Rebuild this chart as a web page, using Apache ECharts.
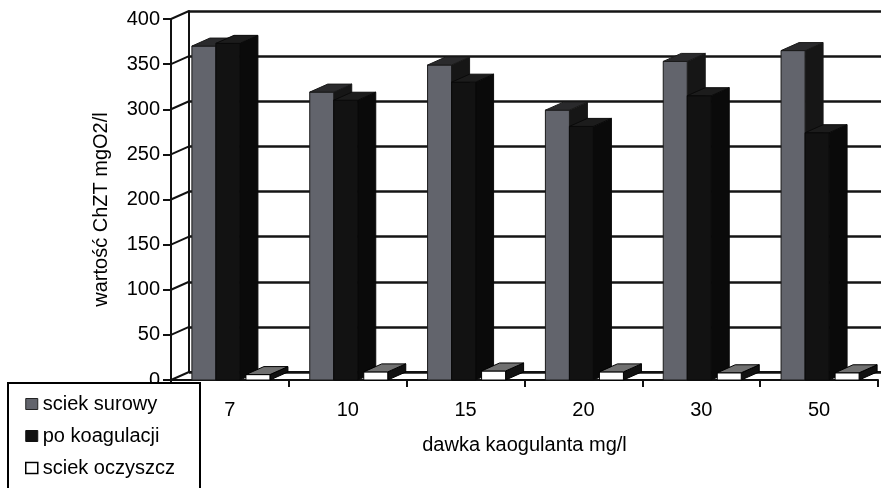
<!DOCTYPE html>
<html>
<head>
<meta charset="utf-8">
<script src="https://cdn.jsdelivr.net/npm/echarts@6/dist/echarts.min.js"></script>
<style>
  html, body { margin: 0; padding: 0; background: #ffffff; }
  #chart { width: 881px; height: 488px; }
</style>
</head>
<body>
<div id="chart"></div>
<script>
// Dawka koagulanta (mg/l) i wartości ChZT (mgO2/l)
const doses = ['7', '10', '15', '20', '30', '50'];
const rawSewage = [370, 319, 349, 299, 353, 365];      // ściek surowy
const afterCoagulation = [373, 310, 330, 281, 315, 274]; // po koagulacji
const treatedSewage = [6, 9, 10, 9, 8, 8];              // ściek oczyszczony
const yTickValues = [0, 50, 100, 150, 200, 250, 300, 350, 400];
const seriesNames = ['sciek surowy', 'po koagulacji', 'sciek oczyszcz'];

// pseudo-3D geometry (pixels)
const DX = 18, DY = -8;
const BAND_PX = 117.8;
const SLOTS = [-38, -14, 16];
const BAR_W = 24;

const faceStyles = [
  { front: '#62646c', top: '#2a2a2c', side: '#161616', stroke: '#1a1a1a' },
  { front: '#121212', top: '#1c1c1c', side: '#0a0a0a', stroke: '#0a0a0a' },
  { front: '#ffffff', top: '#707070', side: '#111111', stroke: '#000000' }
];

function bar3d(idx) {
  const st = faceStyles[idx];
  return function (params, api) {
    const cat = api.value(0), v = api.value(1);
    const base = api.coord([cat, 0]);
    const top = api.coord([cat, v]);
    const band = api.size([1, 0])[0];
    const k = band / BAND_PX;
    const x0 = base[0] + SLOTS[idx] * k;
    const w = BAR_W * k;
    const ty = top[1], by = base[1];
    return {
      type: 'group',
      children: [
        {
          type: 'polygon',
          shape: { points: [[x0 + w, ty], [x0 + w + DX, ty + DY], [x0 + w + DX, by + DY], [x0 + w, by]] },
          style: { fill: st.side, stroke: st.stroke, lineWidth: 1 }
        },
        {
          type: 'rect',
          shape: { x: x0, y: ty, width: w, height: by - ty },
          style: { fill: st.front, stroke: st.stroke, lineWidth: 1 }
        },
        {
          type: 'polygon',
          shape: { points: [[x0, ty], [x0 + DX, ty + DY], [x0 + w + DX, ty + DY], [x0 + w, ty]] },
          style: { fill: st.top, stroke: st.stroke, lineWidth: 1 }
        }
      ]
    };
  };
}

// lines joining the front value axis to the back wall
function wallJoin(params, api) {
  const p = api.coord([0, api.value(1)]);
  const x = params.coordSys.x;
  return {
    type: 'line',
    shape: { x1: x, y1: p[1], x2: x + DX, y2: p[1] + DY },
    style: { stroke: '#111', lineWidth: 2 }
  };
}

const FONT = 'Liberation Sans, Arial, sans-serif';
const TEXT = '#000';
const chart = echarts.init(document.getElementById('chart'));

const seriesData = [rawSewage, afterCoagulation, treatedSewage];

chart.setOption({
  animation: false,
  backgroundColor: '#ffffff',
  textStyle: { fontFamily: FONT, color: TEXT },
  legend: {
    left: 8,
    top: 383,
    height: 200,
    orient: 'vertical',
    icon: 'rect',
    itemWidth: 12,
    itemHeight: 11,
    itemGap: 12,
    itemTextGap: 7,
    padding: [11, 25, 20, 17],
    backgroundColor: '#ffffff',
    borderColor: '#000',
    borderWidth: 2,
    z: 10,
    textStyle: { fontSize: 20, lineHeight: 20, color: TEXT, fontFamily: FONT },
    data: [
      { name: seriesNames[0], itemStyle: { color: '#62646c', borderColor: '#222', borderWidth: 1 } },
      { name: seriesNames[1], itemStyle: { color: '#111', borderColor: '#111', borderWidth: 1 } },
      { name: seriesNames[2], itemStyle: { color: '#fff', borderColor: '#000', borderWidth: 1.5 } }
    ]
  },
  grid: [
    { left: 171, top: 19, width: 707, height: 361 },
    { left: 171 + DX, top: 19 + DY, width: 881 - 171 - DX, height: 361 }
  ],
  xAxis: [
    {
      type: 'category',
      gridIndex: 0,
      data: doses,
      name: 'dawka kaogulanta mg/l',
      nameLocation: 'middle',
      nameGap: 55,
      nameTextStyle: { fontSize: 20, color: TEXT, fontFamily: FONT },
      axisLine: { lineStyle: { color: '#111', width: 2 } },
      axisTick: { show: true, length: 7, lineStyle: { color: '#111', width: 2 } },
      axisLabel: { fontSize: 20, color: TEXT, margin: 20, fontFamily: FONT },
      splitLine: { show: false }
    },
    {
      type: 'value',
      gridIndex: 1,
      min: 0,
      max: 1,
      axisLine: { show: true, onZero: false, lineStyle: { color: '#111', width: 2 } },
      axisTick: { show: false },
      axisLabel: { show: false },
      splitLine: { show: false }
    }
  ],
  yAxis: [
    {
      type: 'value',
      gridIndex: 0,
      min: 0,
      max: 400,
      interval: 50,
      name: 'wartość ChZT mgO2/l',
      nameLocation: 'middle',
      nameGap: 60,
      nameTextStyle: { fontSize: 20, color: TEXT, fontFamily: FONT, padding: [0, 20, 0, 0] },
      axisLine: { show: true, lineStyle: { color: '#111', width: 2 } },
      axisTick: { show: true, length: 8, lineStyle: { color: '#111', width: 2 } },
      axisLabel: { fontSize: 20, color: TEXT, margin: 11, fontFamily: FONT },
      splitLine: { show: false }
    },
    {
      type: 'value',
      gridIndex: 1,
      min: 0,
      max: 400,
      interval: 50,
      axisLine: { show: true, lineStyle: { color: '#111', width: 2 } },
      axisTick: { show: false },
      axisLabel: { show: false },
      splitLine: { show: true, lineStyle: { color: '#141414', width: 2.5 } }
    }
  ],
  series: [
    {
      type: 'custom',
      name: 'wall-joins',
      xAxisIndex: 0,
      yAxisIndex: 0,
      silent: true,
      renderItem: wallJoin,
      data: yTickValues.map(v => [0, v]),
      z: 1
    }
  ].concat(seriesData.map((arr, i) => ({
    type: 'custom',
    name: seriesNames[i],
    xAxisIndex: 0,
    yAxisIndex: 0,
    renderItem: bar3d(i),
    itemStyle: { color: faceStyles[i].front },
    encode: { x: 0, y: 1 },
    data: arr.map((v, c) => [c, v]),
    z: 3
  })))
});
</script>
</body>
</html>
